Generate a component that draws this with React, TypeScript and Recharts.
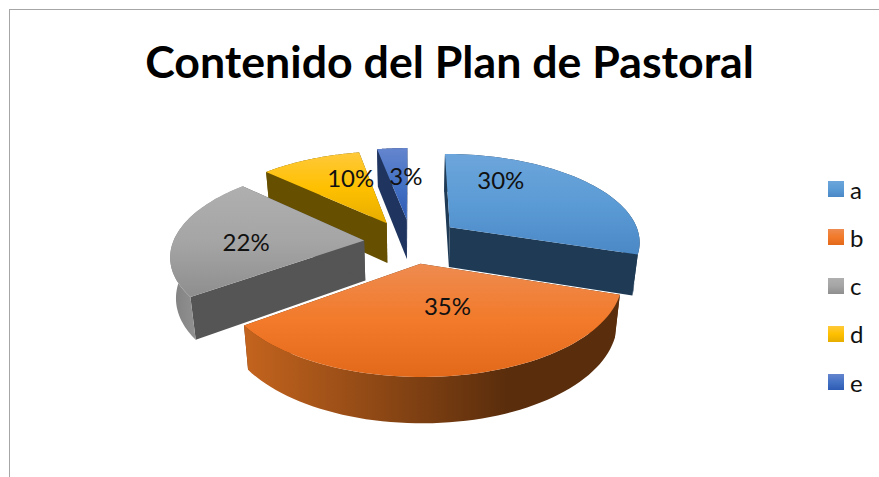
import React from "react";
import { PieChart, Pie, Legend } from "recharts";

const categories = ["a", "b", "c", "d", "e"];
const percentages = [30, 35, 22, 10, 3];

const chartTitle = "Contenido del Plan de Pastoral";
const FONT = "Lato, Carlito, sans-serif";

// styles for each slice: top face gradient, cut wall, rim wall
const faceStops = [
  ["#6CA5DB", "#5B9BD5", "#4A88C6"],
  ["#EE8B50", "#F27A2A", "#E3691A"],
  ["#AFAFAF", "#A5A5A5", "#8E8E8E"],
  ["#FFC93A", "#FFC000", "#E6AD00"],
  ["#6585CE", "#4472C4", "#2E5BB4"],
];
const cutWall = ["#1E3A55", "#5F2F0C", "#555555", "#665000", "#1F3560"];
const rimStops = [
  ["#1E3A55", "#1E3A55"],
  ["#C4641E", "#5A2D0C"],
  ["#808080", "#A3A3A3"],
  ["#665000", "#665000"],
  ["#1F3560", "#1F3560"],
];

// explosion of each slice, as a share of the radius (rendering option)
const explosion = [0.25, 0.273, 0.257, 0.25, 0.24];
// fine tuning of the explosion, in pixels (rendering option)
const explosionTweak = [
  [0, 1],
  [0, 0],
  [1, 3],
  [-3, 3],
  [-1, 1],
];
// label nudge from slice tip (rendering option)
const labelNudge = [
  [51, -48],
  [27, 42],
  [-118, 1],
  [-36, -46],
  [-1, -44],
];
// painter's order: far slices first
const paintOrder = [4, 3, 0, 2, 1];

const PERSPECTIVE = 0.15;
const TILT = 87.5 / 190;
const DEPTH = 40;
const SHRINK = 0.024;

const tableData = categories.map((name, i) => ({ name, value: percentages[i] }));

type World = { u: number; v: number };

function dir(clockDeg: number, f: number): World {
  const t = (clockDeg * Math.PI) / 180;
  return { u: f * Math.sin(t), v: -f * Math.cos(t) };
}

function project(w: World, R: number, cx: number, cy: number) {
  const s = 1 / (1 - PERSPECTIVE * w.v);
  return { x: cx + R * w.u * s, y: cy + R * TILT * w.v * s, v: w.v };
}

function pathOf(points: { x: number; y: number }[]) {
  return (
    points.map((p, i) => `${i ? "L" : "M"}${p.x.toFixed(2)} ${p.y.toFixed(2)}`).join(" ") + " Z"
  );
}

function makeSliceShape(only: number) {
  return function SliceShape(props: any) {
    const { cx, cy, outerRadius: R, startAngle, endAngle, index, percent } = props;
    if (index !== only) return <g />;
    const a0 = 90 - startAngle;
    const a1 = 90 - endAngle;
    const mid = (a0 + a1) / 2;
    const off = dir(mid, explosion[index]);
    const cxT = cx + explosionTweak[index][0];
    const cyT = cy + explosionTweak[index][1];
    const tip = project(off, R, cxT, cyT);
    const down = (p: { x: number; y: number; v: number }) => ({
      x: p.x - (p.x - cx) * SHRINK,
      y: p.y + DEPTH + (p.v > 0 ? 5 : 2) * p.v,
    });
    const rim: { x: number; y: number; v: number }[] = [];
    const steps = 60;
    for (let k = 0; k <= steps; k++) {
      const q = dir(a0 + ((a1 - a0) * k) / steps, 1);
      rim.push(project({ u: q.u + off.u, v: q.v + off.v }, R, cxT, cyT));
    }
    const first = rim[0];
    const last = rim[rim.length - 1];
    const wall = (p: any, q: any) => pathOf([p, q, down(q), down(p)]);
    const rimPath = pathOf([...rim, ...rim.slice().reverse().map(down)]);
    return (
      <g>
        <path d={wall(tip, first)} fill={cutWall[index]} />
        <path d={wall(tip, last)} fill={cutWall[index]} />
        <path d={rimPath} fill={`url(#rim-${index})`} />
        <path d={pathOf([tip, ...rim])} fill={`url(#face-${index})`} />
        <text
          x={tip.x + labelNudge[index][0]}
          y={tip.y + labelNudge[index][1]}
          textAnchor="middle"
          dominantBaseline="central"
          fontFamily={FONT}
          fontSize={24}
          fill="#111"
        >
          {`${Math.round(percent * 100)}%`}
        </text>
      </g>
    );
  };
}

function LegendBox() {
  return (
    <div style={{ fontFamily: FONT, fontSize: 24, color: "#111" }}>
      {categories.map((c, i) => (
        <div key={c} style={{ display: "flex", alignItems: "center", height: 48.25 }}>
          <span
            style={{
              width: 16,
              height: 16,
              marginRight: 6,
              background: `linear-gradient(${faceStops[i][0]}, ${faceStops[i][1]}, ${faceStops[i][2]})`,
            }}
          />
          <span>{c}</span>
        </div>
      ))}
    </div>
  );
}

export default function App() {
  return (
    <div style={{ position: "absolute", left: 0, top: 0, width: 879, height: 477, background: "#fff", overflow: "hidden" }}>
      <div
        style={{
          position: "absolute",
          left: 9,
          top: 9,
          right: 0,
          bottom: 0,
          borderTop: "1.5px solid #a6a6a6",
          borderLeft: "1.5px solid #a6a6a6",
        }}
      />
      <div style={{ position: "absolute", left: 0, top: 0 }}>
        <PieChart width={879} height={477} margin={{ top: 0, right: 0, bottom: 0, left: 0 }}>
          <defs>
            {faceStops.map((s, i) => (
              <linearGradient key={i} id={`face-${i}`} x1="0" y1="0" x2="0" y2="1">
                <stop offset="0" stopColor={s[0]} />
                <stop offset="0.5" stopColor={s[1]} />
                <stop offset="1" stopColor={s[2]} />
              </linearGradient>
            ))}
            {rimStops.map((s, i) => (
              <linearGradient key={i} id={`rim-${i}`} x1="0" y1="0" x2="1" y2="0">
                <stop offset="0" stopColor={s[0]} />
                <stop offset="0.7" stopColor={s[1]} />
                <stop offset="1" stopColor={s[1]} />
              </linearGradient>
            ))}
          </defs>
          <text
            x={449.5}
            y={61}
            textAnchor="middle"
            dominantBaseline="central"
            fontFamily={FONT}
            fontWeight={700}
            fontSize={44.7}
            fill="#000"
          >
            {chartTitle}
          </text>
          {paintOrder.map((i) => {
            const Shape = makeSliceShape(i);
            return (
              <Pie
                key={i}
                data={tableData}
                dataKey="value"
                nameKey="name"
                cx={412}
                cy={239}
                innerRadius={0}
                outerRadius={191}
                startAngle={90}
                endAngle={-270}
                stroke="none"
                legendType="none"
                isAnimationActive={false}
                shape={Shape}
                activeShape={Shape}
                inactiveShape={Shape}
              />
            );
          })}
          <Legend
            layout="vertical"
            align="right"
            verticalAlign="top"
            wrapperStyle={{ position: "absolute", left: 828, top: 165, width: 50 }}
            content={() => <LegendBox />}
          />
        </PieChart>
      </div>
    </div>
  );
}
